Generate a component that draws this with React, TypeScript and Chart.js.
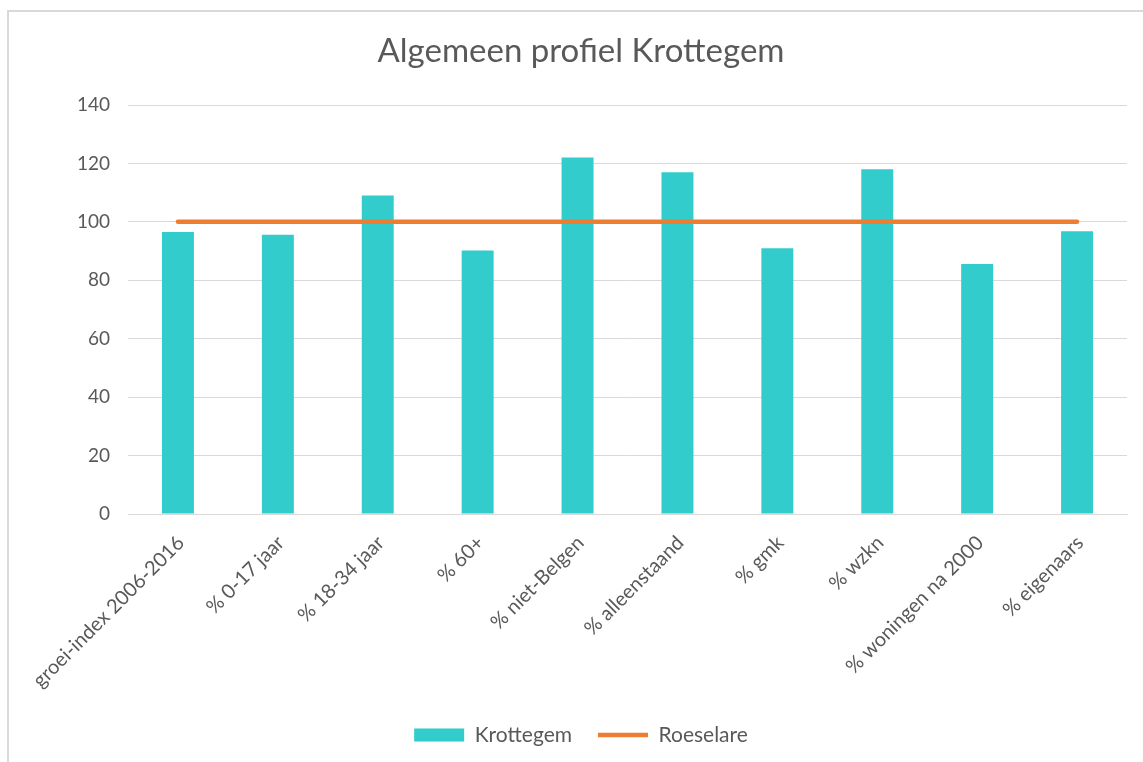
import React, { useEffect, useRef } from "react";
import { Chart, registerables } from "chart.js";

Chart.register(...registerables);

const categories = [
  "groei-index 2006-2016",
  "% 0-17 jaar",
  "% 18-34 jaar",
  "% 60+",
  "% niet-Belgen",
  "% alleenstaand",
  "% gmk",
  "% wzkn",
  "% woningen na 2000",
  "% eigenaars",
];
const krottegem = [96.5, 95.6, 109, 90.2, 122, 117, 91, 118, 85.6, 96.8];
const roeselare = [100, 100, 100, 100, 100, 100, 100, 100, 100, 100];
const yTicks = { min: 0, max: 140, step: 20 };

const FONT = "Lato";
const TEXT = "#595959";

export default function App() {
  const ref = useRef<HTMLCanvasElement | null>(null);
  useEffect(() => {
    if (!ref.current) return;
    const chart = new Chart(ref.current, {
      type: "bar",
      data: {
        labels: categories,
        datasets: [
          {
            type: "line",
            label: "Roeselare",
            data: roeselare,
            borderColor: "#ED7D31",
            backgroundColor: "#ED7D31",
            borderWidth: 4.5,
            borderCapStyle: "round",
            pointRadius: 0,
            pointStyle: "line",
            order: 0,
          } as any,
          {
            type: "bar",
            label: "Krottegem",
            data: krottegem,
            backgroundColor: "#33CCCC",
            borderWidth: 0,
            barPercentage: 0.32,
            categoryPercentage: 1,
            pointStyle: "rect",
            order: 1,
          } as any,
        ],
      },
      options: {
        responsive: false,
        animation: false,
        layout: { padding: { left: 35, right: 16, top: 0, bottom: 6.5 } },
        plugins: {
          title: {
            display: true,
            text: "Algemeen profiel Krottegem",
            color: TEXT,
            font: { family: FONT, size: 33, weight: "normal" },
            padding: { top: 32, bottom: 33.4 },
          },
          legend: {
            position: "bottom",
            reverse: true,
            labels: {
              color: TEXT,
              font: { family: FONT, size: 21 },
              usePointStyle: true,
              pointStyleWidth: 50,
              boxHeight: 13,
              padding: 26,
            },
          },
          tooltip: { enabled: false },
        },
        scales: {
          x: {
            grid: { display: false, drawTicks: false },
            border: { display: true, color: "#d9d9d9", width: 1 },
            ticks: {
              color: TEXT,
              font: { family: FONT, size: 20 },
              minRotation: 45,
              maxRotation: 45,
              autoSkip: false,
              padding: 17,
              labelOffset: 3,
            },
            afterFit: (scale: any) => {
              scale.height = 184.5;
            },
          },
          y: {
            min: yTicks.min,
            max: yTicks.max,
            grid: { color: "#d9d9d9", lineWidth: 1, drawTicks: false },
            border: { display: false },
            ticks: {
              stepSize: yTicks.step,
              color: TEXT,
              font: { family: FONT, size: 19 },
              padding: 18,
            },
            afterFit: (scale: any) => {
              scale.width = 93;
            },
          },
        },
      },
    });
    return () => chart.destroy();
  }, []);

  return (
    <div
      style={{
        position: "fixed",
        left: 0,
        top: 0,
        width: 1143,
        height: 762,
        overflow: "hidden",
        background: "#fff",
      }}
    >
      <div
        style={{
          position: "absolute",
          left: 7,
          top: 10,
          width: 1200,
          height: 800,
          border: "2px solid #d9d9d9",
        }}
      />
      <canvas
        ref={ref}
        width={1143}
        height={762}
        style={{ position: "absolute", left: 0, top: 0 }}
      />
    </div>
  );
}
